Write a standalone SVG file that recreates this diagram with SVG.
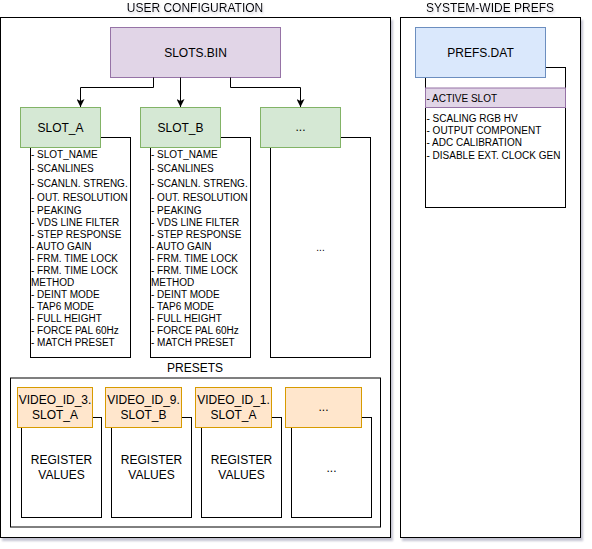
<svg xmlns="http://www.w3.org/2000/svg" width="592" height="549" viewBox="0 0 592 549">
<defs>
<filter id="sh" x="-5%" y="-5%" width="115%" height="115%">
<feDropShadow dx="2" dy="3" stdDeviation="1.2" flood-color="#7a7a9a" flood-opacity="0.45"/>
</filter>
<filter id="tsh" x="-10%" y="-30%" width="120%" height="180%">
<feDropShadow dx="1" dy="2" stdDeviation="1" flood-color="#8888a0" flood-opacity="0.35"/>
</filter>
<marker id="arr" viewBox="0 0 8 8" refX="8" refY="4" markerWidth="8" markerHeight="8" markerUnits="userSpaceOnUse" orient="auto">
<path d="M0,0 L8,4 L0,8 L2,4 Z" fill="#000"/>
</marker>
</defs>
<style>
text{font-family:"Liberation Sans",Arial,Helvetica,sans-serif;fill:#000}
.t12{font-size:12px}
.t10{font-size:10px}
.c{text-anchor:middle}
.box{fill:#fff;stroke:#000;stroke-width:1}
.purple{fill:#e1d5e7;stroke:#9673a6;stroke-width:1}
.green{fill:#d5e8d4;stroke:#82b366;stroke-width:1}
.blue{fill:#dae8fc;stroke:#6c8ebf;stroke-width:1}
.orange{fill:#ffe6cc;stroke:#d79b00;stroke-width:1}
.conn{fill:none;stroke:#000;stroke-width:1}
</style>
<rect width="592" height="549" fill="#fff"/>

<g id="user-configuration">
<rect class="box" x="0.5" y="17.5" width="390" height="520" filter="url(#sh)"/>
<text class="t12 c" x="195" y="12" filter="url(#tsh)">USER CONFIGURATION</text>
</g>

<g id="system-wide-prefs">
<rect class="box" x="400.5" y="17.5" width="180" height="520" filter="url(#sh)"/>
<text class="t12 c" x="490" y="12" filter="url(#tsh)">SYSTEM-WIDE PREFS</text>
</g>

<g id="slots-bin">
<rect class="purple" x="110.5" y="27.5" width="170" height="50"/>
<text class="t12 c" x="195.5" y="56.5">SLOTS.BIN</text>
</g>

<g id="connectors">
<path class="conn" d="M153.5,77.5 V87.5 H80.5 V107" marker-end="url(#arr)"/>
<path class="conn" d="M180.5,77.5 V107" marker-end="url(#arr)"/>
<path class="conn" d="M230.5,77.5 V87.5 H300.5 V107" marker-end="url(#arr)"/>
</g>

<g id="slot-a">
<rect class="box" x="30.5" y="137.5" width="100" height="220"/>
<rect class="green" x="20.5" y="107.5" width="80" height="40"/>
<text class="t12 c" x="60.5" y="131.5">SLOT_A</text>
<text class="t10" x="31">
<tspan x="31" y="158">- SLOT_NAME</tspan>
<tspan x="31" y="172.3">- SCANLINES</tspan>
<tspan x="31" y="186.8">- SCANLN. STRENG.</tspan>
<tspan x="31" y="200.8">- OUT. RESOLUTION</tspan>
<tspan x="31" y="213.8">- PEAKING</tspan>
<tspan x="31" y="225.8">- VDS LINE FILTER</tspan>
<tspan x="31" y="237.8">- STEP RESPONSE</tspan>
<tspan x="31" y="249.8">- AUTO GAIN</tspan>
<tspan x="31" y="261.6">- FRM. TIME LOCK</tspan>
<tspan x="31" y="273.6">- FRM. TIME LOCK</tspan>
<tspan x="31" y="285.8">METHOD</tspan>
<tspan x="31" y="297.8">- DEINT MODE</tspan>
<tspan x="31" y="309.8">- TAP6 MODE</tspan>
<tspan x="31" y="321.6">- FULL HEIGHT</tspan>
<tspan x="31" y="333.6">- FORCE PAL 60Hz</tspan>
<tspan x="31" y="345.8">- MATCH PRESET</tspan>
</text>
</g>

<g id="slot-b">
<rect class="box" x="150.5" y="137.5" width="100" height="220"/>
<rect class="green" x="140.5" y="107.5" width="80" height="40"/>
<text class="t12 c" x="180.5" y="131.5">SLOT_B</text>
<text class="t10" x="151">
<tspan x="151" y="158">- SLOT_NAME</tspan>
<tspan x="151" y="172.3">- SCANLINES</tspan>
<tspan x="151" y="186.8">- SCANLN. STRENG.</tspan>
<tspan x="151" y="200.8">- OUT. RESOLUTION</tspan>
<tspan x="151" y="213.8">- PEAKING</tspan>
<tspan x="151" y="225.8">- VDS LINE FILTER</tspan>
<tspan x="151" y="237.8">- STEP RESPONSE</tspan>
<tspan x="151" y="249.8">- AUTO GAIN</tspan>
<tspan x="151" y="261.6">- FRM. TIME LOCK</tspan>
<tspan x="151" y="273.6">- FRM. TIME LOCK</tspan>
<tspan x="151" y="285.8">METHOD</tspan>
<tspan x="151" y="297.8">- DEINT MODE</tspan>
<tspan x="151" y="309.8">- TAP6 MODE</tspan>
<tspan x="151" y="321.6">- FULL HEIGHT</tspan>
<tspan x="151" y="333.6">- FORCE PAL 60Hz</tspan>
<tspan x="151" y="345.8">- MATCH PRESET</tspan>
</text>
</g>

<g id="slot-more">
<rect class="box" x="270.5" y="137.5" width="100" height="220"/>
<rect class="green" x="260.5" y="107.5" width="80" height="40"/>
<text class="t12 c" x="300.5" y="131">...</text>
<text class="t10 c" x="320.5" y="251">...</text>
</g>

<g id="prefs-dat">
<rect class="box" x="425.5" y="67.5" width="140" height="140"/>
<rect class="blue" x="415.5" y="27.5" width="130" height="50"/>
<text class="t12 c" x="480.5" y="56.5">PREFS.DAT</text>
<rect class="purple" x="425.5" y="88" width="140" height="19.5"/>
<text class="t10" x="426.5" y="102">- ACTIVE SLOT</text>
<text class="t10">
<tspan x="426.5" y="121.5">- SCALING RGB HV</tspan>
<tspan x="426.5" y="133.8">- OUTPUT COMPONENT</tspan>
<tspan x="426.5" y="146.1">- ADC CALIBRATION</tspan>
<tspan x="426.5" y="158.5">- DISABLE EXT. CLOCK GEN</tspan>
</text>
</g>

<g id="presets">
<text class="t12 c" x="195" y="371.5">PRESETS</text>
<rect class="box" x="10.5" y="378" width="370" height="149"/>
</g>

<g id="preset-1">
<rect class="box" x="21.5" y="417.5" width="80" height="100"/>
<rect class="orange" x="17.5" y="387.5" width="75" height="40"/>
<text class="t12 c" x="55" y="403.5">VIDEO_ID_3.</text>
<text class="t12 c" x="55" y="418.5">SLOT_A</text>
<text class="t12 c" x="61.5" y="463.5">REGISTER</text>
<text class="t12 c" x="61.5" y="478.5">VALUES</text>
</g>

<g id="preset-2">
<rect class="box" x="111.5" y="417.5" width="80" height="100"/>
<rect class="orange" x="105.5" y="387.5" width="76" height="40"/>
<text class="t12 c" x="143.5" y="403.5">VIDEO_ID_9.</text>
<text class="t12 c" x="143.5" y="418.5">SLOT_B</text>
<text class="t12 c" x="151.5" y="463.5">REGISTER</text>
<text class="t12 c" x="151.5" y="478.5">VALUES</text>
</g>

<g id="preset-3">
<rect class="box" x="201.5" y="417.5" width="80" height="100"/>
<rect class="orange" x="195.5" y="387.5" width="76" height="40"/>
<text class="t12 c" x="233.5" y="403.5">VIDEO_ID_1.</text>
<text class="t12 c" x="233.5" y="418.5">SLOT_A</text>
<text class="t12 c" x="241.5" y="463.5">REGISTER</text>
<text class="t12 c" x="241.5" y="478.5">VALUES</text>
</g>

<g id="preset-more">
<rect class="box" x="291.5" y="417.5" width="80" height="100"/>
<rect class="orange" x="285.5" y="387.5" width="76" height="40"/>
<text class="t12 c" x="323.5" y="411">...</text>
<text class="t12 c" x="331.5" y="472">...</text>
</g>
</svg>
